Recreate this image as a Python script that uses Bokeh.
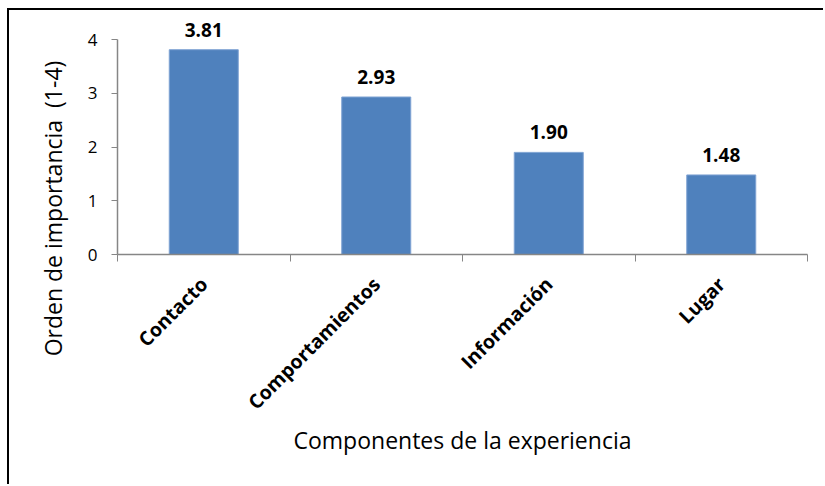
import math
from bokeh.plotting import figure
from bokeh.models import ColumnDataSource, FixedTicker, LabelSet, Label, Range1d
from bokeh.core.properties import value
from bokeh.embed import file_html
from bokeh.resources import INLINE

# Data
categories = ["Contacto", "Comportamientos", "Información", "Lugar"]
importance = [3.81, 2.93, 1.90, 1.48]
y_ticks = [0, 1, 2, 3, 4]
x_title = "Componentes de la experiencia"
y_title = "Orden de importancia \u00a0(1-4)"

FONT = "Open Sans"
AXIS_GREY = "#868686"
BAR_BLUE = "#4F81BD"

# Bars sit at the middle of unit-wide category slots; slot edges carry the ticks
positions = [i + 0.5 for i in range(len(categories))]
edges = list(range(len(categories) + 1))

source = ColumnDataSource(dict(
    x=positions,
    top=importance,
    label=[f"{v:.2f}" for v in importance],
))

# page offset of the canvas, leaving room for the framing border
OX, OY = 9, 10
W, H = 825 - OX, 486 - OY
FL, FR, FT, FB = 117, 807, 15, 254  # frame edges in page pixels
px_per_unit = (FB - 39) / 4.0

p = figure(
    width=W, height=H,
    output_backend="svg", toolbar_location=None,
    x_range=Range1d(0, len(categories)),
    y_range=Range1d(0, (FB - FT) / px_per_unit),
    min_border_left=FL - OX, min_border_right=825 - FR,
    min_border_top=FT - OY, min_border_bottom=486 - FB,
    margin=(OY - 2, 0, 0, OX - 2),
)
p.styles = {"border-top": "2px solid #000", "border-left": "2px solid #000"}
p.outline_line_color = None
p.background_fill_color = "white"
p.border_fill_color = "white"
p.xgrid.grid_line_color = None
p.ygrid.grid_line_color = None

p.vbar(x="x", top="top", width=0.4, source=source,
       fill_color=BAR_BLUE, line_color="#7FA3D3", line_width=1)

p.add_layout(LabelSet(x="x", y="top", text="label", source=source,
                      text_align="center", text_baseline="alphabetic",
                      y_offset=13, text_font=value(FONT), text_font_size=value("19px"),
                      text_font_style=value("bold"), text_color=value("black")))

# x axis: category names at slot centres, ticks at slot edges
xa = p.xaxis[0]
xa.ticker = FixedTicker(ticks=positions, minor_ticks=edges)
xa.major_label_overrides = {pos: cat for pos, cat in zip(positions, categories)}
xa.major_label_orientation = math.pi / 4
xa.major_label_text_font = FONT
xa.major_label_text_font_size = "19.5px"
xa.major_label_text_font_style = "bold"
xa.major_label_text_color = "black"
xa.major_label_standoff = 19
xa.major_tick_line_color = None
xa.minor_tick_in = 0
xa.minor_tick_out = 7
xa.minor_tick_line_color = AXIS_GREY
xa.axis_line_color = AXIS_GREY
xa.axis_line_width = 1.5
xa.axis_label = x_title
xa.axis_label_text_font = FONT
xa.axis_label_text_font_size = "23px"
xa.axis_label_text_font_style = "normal"
xa.axis_label_text_color = "black"
xa.axis_label_standoff = -4

ya = p.yaxis[0]
ya.ticker = FixedTicker(ticks=y_ticks, minor_ticks=[])
ya.bounds = (0, 4)
ya.major_label_text_font = FONT
ya.major_label_text_font_size = "17px"
ya.major_label_text_color = "black"
ya.major_label_standoff = 14
ya.major_tick_in = 0
ya.major_tick_out = 6
ya.major_tick_line_color = AXIS_GREY
ya.axis_line_color = AXIS_GREY
ya.axis_line_width = 1.5

# y axis title in the left side panel, in screen units of that panel
p.add_layout(Label(x=0, y=FB - 208, x_units="screen", y_units="screen",
                   text=y_title, angle=math.pi / 2, angle_units="rad",
                   text_align="center", text_baseline="middle",
                   text_font=FONT, text_font_size="23px", text_color="black"), "left")

open("out.html", "w").write(file_html(p, INLINE))
